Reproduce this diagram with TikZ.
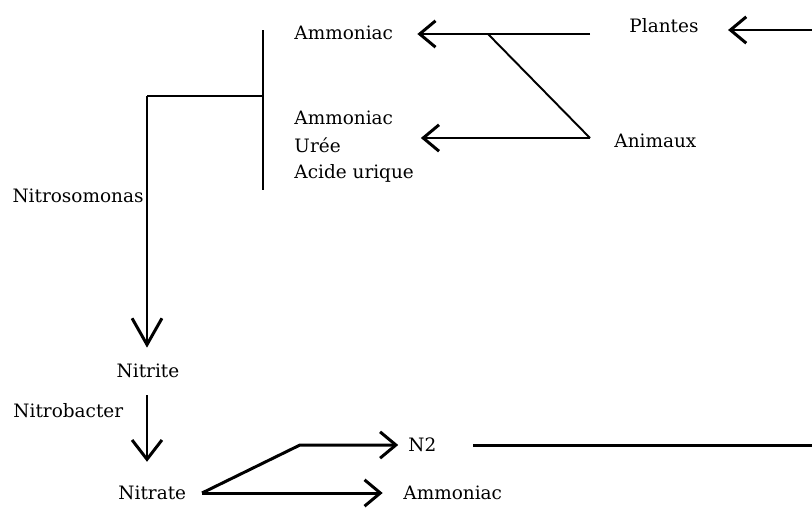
\documentclass[tikz,border=0pt]{standalone}
\usepackage{fontspec}
\setmainfont{DejaVu Serif}
\usetikzlibrary{arrows.meta}
\tikzset{
  lbl/.style={font=\fontsize{10.5}{12}\selectfont,inner sep=0pt},
  fl/.style={-{Straight Barb[length=9pt,width=15pt]}},
  fld/.style={-{Straight Barb[length=15pt,width=17pt]}},
}
\begin{document}
\begin{tikzpicture}[x=0.02cm,y=-0.02cm,line width=1.7pt]
  \useasboundingbox (0,0) rectangle (812,511);
  % textes
  \node[lbl,anchor=west] (amm1) at (293,33) {Ammoniac};
  \node[lbl,anchor=west] (amm2) at (293,118) {Ammoniac};
  \node[lbl,anchor=west] (uree) at (293,145) {Urée};
  \node[lbl,anchor=west] (acide) at (293,173) {Acide urique};
  \node[lbl,anchor=west] (plantes) at (628,26) {Plantes};
  \node[lbl,anchor=west] (animaux) at (613,141) {Animaux};
  \node[lbl,anchor=east] (nitroso) at (145,196) {Nitrosomonas};
  \node[lbl] (nitrite) at (148,371) {Nitrite};
  \node[lbl,anchor=west] (nitrob) at (12,411) {Nitrobacter};
  \node[lbl,anchor=west] (nitrate) at (117,493) {Nitrate};
  \node[lbl,anchor=west] (n2) at (407,445) {N2};
  \node[lbl,anchor=west] (amm3) at (402,493) {Ammoniac};
  % points
  \coordinate (bT) at (263,30);
  \coordinate (bB) at (263,190);
  \coordinate (bM) at (263,96);
  \coordinate (bL) at (147,96);
  \coordinate (sP) at (812,30);
  \coordinate (jA) at (590,34);
  \coordinate (jD) at (488,34);
  \coordinate (jB) at (590,138);
  \coordinate (nS) at (202,493);
  \coordinate (nK) at (300,445);
  \coordinate (nE) at (812,446);
  % haut
  \draw (bT)--(bB);
  \draw (bM)--(bL);
  \draw[fl,shorten >=16pt] (sP)--(sP-|plantes.east);
  \draw[fl,shorten >=13pt] (jA)--(jA-|amm1.east);
  \draw[line width=1.1pt] (jD)--(jB);
  \draw[fl,shorten >=15pt] (jB)--(jB-|amm2.east);
  % bas
  \draw[fld,shorten >=8.5pt] (bL)--(bL|-nitrite.north);
  \draw[-{Straight Barb[length=11pt,width=17pt]},shorten <=9pt,shorten >=13pt] (bL|-nitrite.south)--(bL|-nitrate.north);
  \draw[fl,shorten >=5pt] (nS)--(nK)--(nK-|n2.west);
  \draw[fl,shorten >=11pt] (nS)--(nS-|amm3.west);
  \draw[shorten <=20pt] (n2.east)--(n2.east-|nE);
\end{tikzpicture}
\end{document}
